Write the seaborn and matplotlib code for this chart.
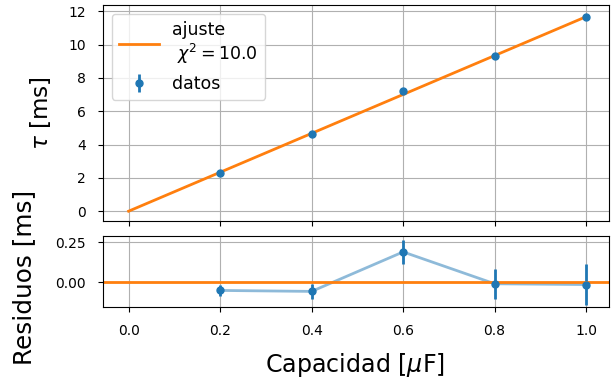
import numpy as np
import pandas as pd
import matplotlib
matplotlib.use("Agg")
import matplotlib.pyplot as plt
from matplotlib.transforms import IdentityTransform
import seaborn as sns

# Data
capacidad = [0.2, 0.4, 0.6, 0.8, 1.0]          # uF
tau = [2.28, 4.61, 7.19, 9.33, 11.66]            # ms
tau_err = [0.036, 0.049, 0.075, 0.094, 0.127]    # ms
residuos = [-0.052, -0.058, 0.19, -0.01, -0.015] # ms
fit_x = [0.0, 1.0]
fit_y = [0.0, 11.675]
chi2 = 10.0

plt.rcParams['font.family'] = ['DejaVu Sans']

fig = plt.figure(figsize=(6.14, 3.83), dpi=100)
W, H = 614, 383
ax1 = fig.add_axes([103 / W, 1 - 221 / H, 506 / W, 216 / H])
ax2 = fig.add_axes([103 / W, 1 - 307 / H, 506 / W, 71 / H], sharex=ax1)

df_fit = pd.DataFrame({"x": fit_x, "y": fit_y})
sns.lineplot(data=df_fit, x="x", y="y", ax=ax1, color="C1", lw=2,
             label="ajuste\n $\\chi^2 = %.1f$" % chi2)
ax1.errorbar(capacidad, tau, yerr=tau_err, fmt="o", color="C0", ms=5,
             elinewidth=2, label="datos")
ax1.set_xlabel("")
ax1.set_ylabel(r"$\tau$ [ms]", fontsize=17)
ax1.tick_params(labelbottom=False, labelsize=10, pad=9)
ax1.grid(True, color="#b0b0b0", lw=0.8)
ax1.set_yticks([0, 2, 4, 6, 8, 10, 12])
ax1.legend(loc="upper left", fontsize=12.5, handlelength=2.3, framealpha=0.8)

df_res = pd.DataFrame({"x": capacidad, "r": residuos})
sns.lineplot(data=df_res, x="x", y="r", ax=ax2, color="C0", alpha=0.5, lw=2)
ax2.errorbar(capacidad, residuos, yerr=tau_err, fmt="o", color="C0", ms=5,
             elinewidth=2)
ax2.axhline(0, color="C1", lw=2)
ax2.set_ylim(-0.156, 0.29)
ax2.set_yticks([0.0, 0.25])
ax2.set_yticklabels(["0.00", "0.25"])
ax2.set_xlim(-0.056, 1.05)
ax2.set_xticks([0.0, 0.2, 0.4, 0.6, 0.8, 1.0])
ax2.grid(True, color="#b0b0b0", lw=0.8)
ax2.tick_params(labelsize=10, pad=9)
ax2.set_xlabel(r"Capacidad [$\mu$F]", fontsize=17)
ax2.set_ylabel("Residuos [ms]", fontsize=17)

# place axis labels to match target pixel boxes (length, centre)
targets = [
    (ax1.yaxis, 74.0, 40.5, 113.0, True),
    (ax2.yaxis, 175.0, 24.5, 277.5, True),
    (ax2.xaxis, 180.0, 355.0, 365.0, False),
]
for axis, tlen, tcx, tcy, vert in targets:
    lab = axis.label
    fig.canvas.draw()
    r = fig.canvas.get_renderer()
    bb = lab.get_window_extent(r)
    L = bb.height if vert else bb.width
    lab.set_fontsize(lab.get_fontsize() * tlen / L)
    axis.set_label_coords(tcx, H - tcy, transform=IdentityTransform())
    fig.canvas.draw()
    bb = lab.get_window_extent(fig.canvas.get_renderer())
    cx, cy = (bb.x0 + bb.x1) / 2, (bb.y0 + bb.y1) / 2
    px, py = lab.get_position()
    axis.set_label_coords(px + (tcx - cx), py + ((H - tcy) - cy),
                          transform=IdentityTransform())

fig.savefig("out.png", dpi=100)
